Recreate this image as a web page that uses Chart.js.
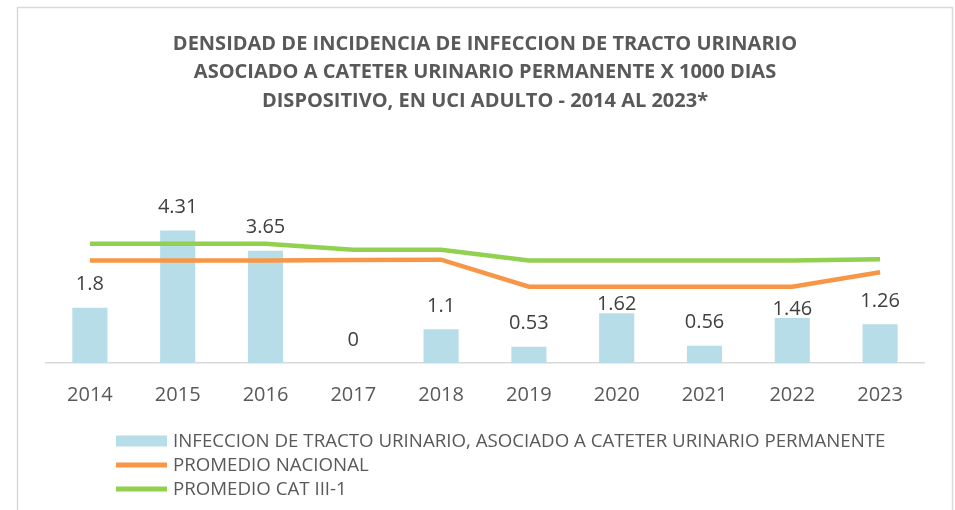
<!DOCTYPE html>
<html>
<head>
<meta charset="utf-8">
<script src="https://cdn.jsdelivr.net/npm/chart.js@4/dist/chart.umd.min.js"></script>
<style>
html,body{margin:0;padding:0;background:#fff;}
#wrap{width:955px;height:510px;position:relative;}
</style>
</head>
<body>
<div id="wrap"><canvas id="c" width="955" height="510"></canvas></div>
<script>
const years = ['2014','2015','2016','2017','2018','2019','2020','2021','2022','2023'];
const infeccionValues = [1.8, 4.31, 3.65, 0, 1.1, 0.53, 1.62, 0.56, 1.46, 1.26];
const promedioNacional = [3.33, 3.33, 3.33, 3.35, 3.36, 2.48, 2.48, 2.48, 2.48, 2.95];
const promedioCat = [3.88, 3.88, 3.88, 3.68, 3.68, 3.33, 3.33, 3.33, 3.33, 3.37];
const seriesNames = ['INFECCION DE TRACTO URINARIO, ASOCIADO A CATETER URINARIO PERMANENTE', 'PROMEDIO NACIONAL', 'PROMEDIO CAT III-1'];
const titleLines = ['DENSIDAD DE INCIDENCIA DE INFECCION DE TRACTO URINARIO', 'ASOCIADO A CATETER URINARIO PERMANENTE X 1000 DIAS', 'DISPOSITIVO, EN UCI ADULTO - 2014 AL 2023*'];

const FONT = '"Open Sans", sans-serif';

const framePlugin = {
  id: 'frame',
  beforeDraw(chart) {
    const ctx = chart.ctx;
    ctx.save();
    ctx.fillStyle = '#ffffff';
    ctx.fillRect(0, 0, chart.width, chart.height);
    ctx.strokeStyle = '#d9d9d9';
    ctx.lineWidth = 1.5;
    ctx.strokeRect(17.5, 7.5, chart.width - 20, chart.height + 20);
    ctx.restore();
  }
};

const labelPlugin = {
  id: 'barLabels',
  afterDatasetsDraw(chart) {
    const ctx = chart.ctx;
    const meta = chart.getDatasetMeta(0);
    const lineMetas = chart.data.datasets
      .map((ds, i) => ds.type === 'line' ? chart.getDatasetMeta(i) : null)
      .filter(Boolean);
    ctx.save();
    ctx.font = '20px ' + FONT;
    ctx.fillStyle = '#404040';
    ctx.textAlign = 'center';
    ctx.textBaseline = 'middle';
    meta.data.forEach((el, i) => {
      let y = el.y - 23;
      const clash = lineMetas.some(m => {
        const p = m.data[i];
        return p && Math.abs(p.y - y) < 12;
      });
      if (clash) y = el.y - 8.5;
      ctx.fillText(String(chart.data.datasets[0].data[i]), el.x, y);
    });
    ctx.restore();
  }
};

const legendPlugin = {
  id: 'vLegend',
  afterDraw(chart) {
    const ctx = chart.ctx;
    const x0 = chart.chartArea.left + 70;
    const rows = [441, 465, 489];
    ctx.save();
    ctx.font = '18.7px ' + FONT;
    ctx.textBaseline = 'middle';
    ctx.textAlign = 'left';
    chart.data.datasets.forEach((ds, i) => {
      const y = rows[i];
      if (ds.type === 'bar') {
        ctx.fillStyle = ds.backgroundColor;
        ctx.fillRect(x0, y - 5.5, 51, 11);
      } else {
        ctx.fillStyle = ds.borderColor;
        ctx.fillRect(x0, y - 2.5, 51, 5);
      }
      ctx.fillStyle = '#595959';
      ctx.fillText(ds.label, x0 + 57, y + 1);
    });
    ctx.restore();
  }
};

new Chart(document.getElementById('c'), {
  data: {
    labels: years,
    datasets: [
      {
        type: 'bar',
        label: seriesNames[0],
        data: infeccionValues,
        backgroundColor: '#b7dde8',
        categoryPercentage: 1,
        barPercentage: 0.4,
        order: 2
      },
      {
        type: 'line',
        label: seriesNames[1],
        data: promedioNacional,
        borderColor: '#f79646',
        backgroundColor: '#f79646',
        borderWidth: 4.5,
        pointRadius: 0,
        tension: 0,
        fill: false,
        order: 1
      },
      {
        type: 'line',
        label: seriesNames[2],
        data: promedioCat,
        borderColor: '#92d050',
        backgroundColor: '#92d050',
        borderWidth: 4.5,
        pointRadius: 0,
        tension: 0,
        fill: false,
        order: 0
      }
    ]
  },
  options: {
    responsive: false,
    animation: false,
    devicePixelRatio: 1,
    layout: { padding: { left: 46, right: 31, top: 0, bottom: 83 } },
    plugins: {
      legend: { display: false },
      tooltip: { enabled: false },
      title: {
        display: true,
        text: titleLines,
        color: '#595959',
        font: { family: FONT, size: 20, weight: 'bold', lineHeight: 1.42 },
        padding: { top: 30, bottom: 94 }
      }
    },
    scales: {
      x: {
        grid: { display: false, drawTicks: false },
        border: { display: true, color: '#d9d9d9', width: 1.5 },
        ticks: { color: '#595959', font: { family: FONT, size: 20 }, padding: 20 }
      },
      y: {
        display: false,
        min: 0,
        max: 5
      }
    }
  },
  plugins: [framePlugin, labelPlugin, legendPlugin]
});
</script>
</body>
</html>
